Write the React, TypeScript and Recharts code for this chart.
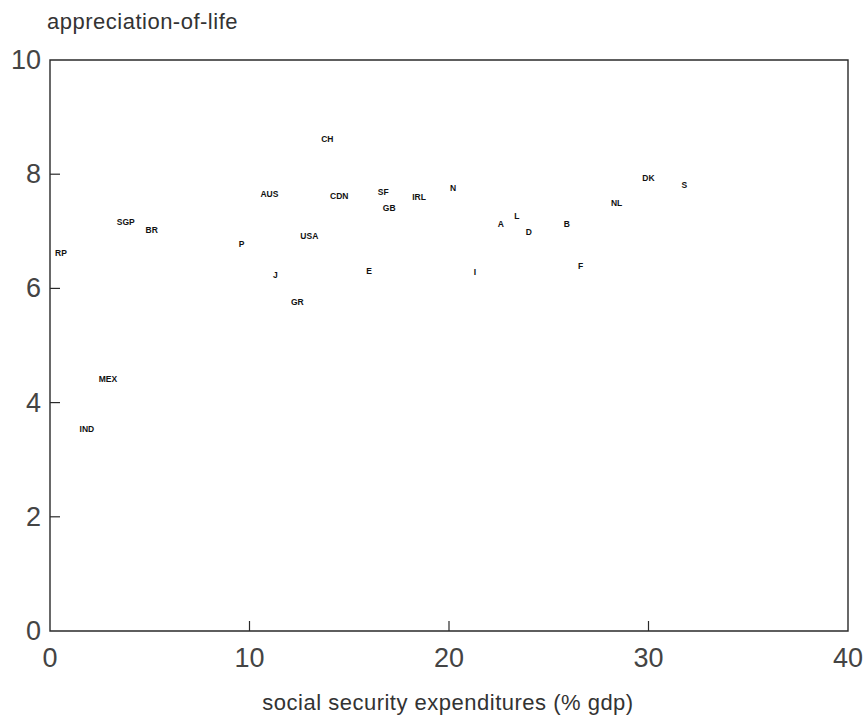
import React from "react";
import {
  ScatterChart,
  Scatter,
  XAxis,
  YAxis,
  ReferenceArea,
} from "recharts";

const countries = [
  "RP", "SGP", "BR", "MEX", "IND", "CH", "AUS", "CDN", "USA", "P", "J", "GR", "E",
  "SF", "GB", "IRL", "N", "I", "A", "L", "D", "B", "F", "NL", "DK", "S",
];
const socialSecurity = [
  0.55, 3.8, 5.1, 2.9, 1.85, 13.9, 11.0, 14.5, 13.0, 9.6, 11.3, 12.4, 16.0,
  16.7, 17.0, 18.5, 20.2, 21.3, 22.6, 23.4, 24.0, 25.9, 26.6, 28.4, 30.0, 31.8,
];
const appreciation = [
  6.62, 7.16, 7.02, 4.41, 3.54, 8.62, 7.65, 7.62, 6.92, 6.77, 6.24, 5.77, 6.31,
  7.69, 7.41, 7.60, 7.76, 6.29, 7.12, 7.27, 6.98, 7.12, 6.39, 7.50, 7.94, 7.81,
];
const xTicks = [0, 10, 20, 30, 40];
const yTicks = [0, 2, 4, 6, 8, 10];

const data = countries.map((name, i) => ({
  name,
  x: socialSecurity[i],
  y: appreciation[i],
}));

const tickFont = "'Liberation Sans', Arial, sans-serif";
const ink = "#2a2a2a";

const XTick = (props: any) => {
  const { x, y, payload } = props;
  const v = payload.value;
  const inner = v !== 0 && v !== 40;
  return (
    <g>
      {inner && <line x1={x} y1={y} x2={x} y2={y - 10} stroke={ink} strokeWidth={1.2} />}
      <text
        x={x}
        y={y + 27}
        textAnchor="middle"
        dominantBaseline="central"
        fontFamily={tickFont}
        fontSize={27}
        fontWeight={300}
        fill="#444"
      >
        {v}
      </text>
    </g>
  );
};

const YTick = (props: any) => {
  const { x, y, payload } = props;
  const v = payload.value;
  const inner = v !== 0 && v !== 10;
  return (
    <g>
      {inner && <line x1={x} y1={y} x2={x + 10} y2={y} stroke={ink} strokeWidth={1.2} />}
      <text
        x={x - 9}
        y={y}
        textAnchor="end"
        dominantBaseline="central"
        fontFamily={tickFont}
        fontSize={27}
        fontWeight={300}
        fill="#444"
      >
        {v}
      </text>
    </g>
  );
};

const LabelShape = (props: any) => {
  const { cx, cy, payload } = props;
  return (
    <text
      x={cx}
      y={cy}
      textAnchor="middle"
      dominantBaseline="central"
      fontFamily="'Liberation Sans', Arial, sans-serif"
      fontSize={8.5}
      fontWeight="bold"
      fill="#111"
    >
      {payload.name}
    </text>
  );
};

export default function App() {
  return (
    <div
      style={{
        position: "absolute",
        left: 0,
        top: 0,
        width: 864,
        height: 719,
        background: "#fff",
      }}
    >
      <ScatterChart
        width={864}
        height={719}
        margin={{ top: 60, right: 16, left: 10, bottom: 48 }}
      >
        <XAxis
          type="number"
          dataKey="x"
          domain={[0, 40]}
          ticks={xTicks}
          axisLine={false}
          tickLine={false}
          tickSize={0}
          tickMargin={0}
          height={40}
          tick={<XTick />}
          interval={0}
        />
        <YAxis
          type="number"
          dataKey="y"
          domain={[0, 10]}
          ticks={yTicks}
          axisLine={false}
          tickLine={false}
          tickSize={0}
          tickMargin={0}
          width={40}
          tick={<YTick />}
          interval={0}
        />
        <ReferenceArea
          x1={0}
          x2={40}
          y1={0}
          y2={10}
          fill="none"
          fillOpacity={0}
          stroke={ink}
          strokeWidth={1.4}
        />
        <Scatter data={data} shape={<LabelShape />} isAnimationActive={false} />
      </ScatterChart>
      <div
        style={{
          position: "absolute",
          left: 47,
          top: 9,
          fontFamily: tickFont,
          fontSize: 22,
          fontWeight: 300,
          letterSpacing: 0.5,
          color: "#333",
          lineHeight: "26px",
          whiteSpace: "nowrap",
        }}
      >
        appreciation-of-life
      </div>
      <div
        style={{
          position: "absolute",
          left: 0,
          width: 896,
          top: 690,
          textAlign: "center",
          fontFamily: tickFont,
          fontSize: 22,
          fontWeight: 300,
          letterSpacing: 0.5,
          color: "#333",
          lineHeight: "26px",
          whiteSpace: "nowrap",
        }}
      >
        social security expenditures (% gdp)
      </div>
    </div>
  );
}
